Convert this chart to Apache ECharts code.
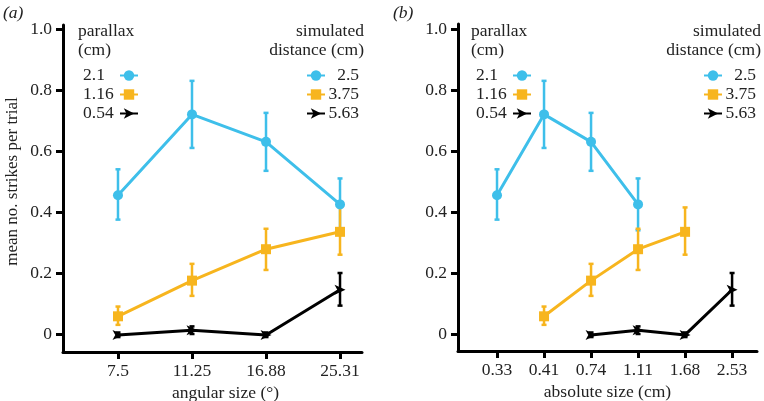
<!DOCTYPE html>
<html lang="en">
<head>
    <meta charset="UTF-8" />
    <title>mean strikes per trial</title>
    <script src="https://cdn.jsdelivr.net/npm/echarts@6.0.0/dist/echarts.min.js"></script>
    <style>
        html, body { margin: 0; padding: 0; background: #fff; }
        #chart { width: 764px; height: 401px; }
    </style>
</head>
<body>
<div id="chart"></div>
<script>
    // tick labels
    const angularTicks = ['7.5', '11.25', '16.88', '25.31'];
    const absoluteTicks = ['0.33', '0.41', '0.74', '1.11', '1.68', '2.53'];

    // simulated distance (cm) and matching parallax (cm)
    const distances = ['2.5', '3.75', '5.63'];
    const parallax = ['2.1', '1.16', '0.54'];

    // means and error bar ends, one value per angular size
    const blueMean = [0.455, 0.72, 0.63, 0.425];
    const blueLow = [0.375, 0.61, 0.535, 0.34];
    const blueHigh = [0.54, 0.83, 0.725, 0.51];

    const orangeMean = [0.058, 0.175, 0.278, 0.335];
    const orangeLow = [0.03, 0.125, 0.21, 0.26];
    const orangeHigh = [0.09, 0.23, 0.345, 0.415];

    const blackMean = [-0.003, 0.012, -0.003, 0.145];
    const blackLow = [-0.01, 0.0, -0.01, 0.093];
    const blackHigh = [0.005, 0.025, 0.005, 0.2];

    // first absolute size index of each distance in panel (b)
    const absOffset = [0, 1, 2];

    const colors = ['#3ebfea', '#f7b51e', '#000000'];
    const symbols = ['circle', 'rect', 'path://M0,0L10,5L0,10L2.5,5Z'];
    const FONT = 'Liberation Serif';
    const FS = 17.5;

    const groups = [
        { mean: blueMean, low: blueLow, high: blueHigh },
        { mean: orangeMean, low: orangeLow, high: orangeHigh },
        { mean: blackMean, low: blackLow, high: blackHigh }
    ];

    const chart = echarts.init(document.getElementById('chart'));

    function errorBars(axis, offset, g, color) {
        return {
            type: 'custom',
            name: 'err',
            xAxisIndex: axis,
            yAxisIndex: axis,
            z: 3,
            clip: false,
            data: g.mean.map((m, i) => [i + offset, g.low[i], g.high[i]]),
            renderItem: (params, api) => {
                const lo = api.coord([api.value(0), api.value(1)]);
                const hi = api.coord([api.value(0), api.value(2)]);
                const cap = 2.5;
                const style = { stroke: color, lineWidth: 2.5 };
                return {
                    type: 'group',
                    children: [
                        { type: 'line', shape: { x1: lo[0], y1: lo[1], x2: hi[0], y2: hi[1] }, style },
                        { type: 'line', shape: { x1: lo[0] - cap, y1: lo[1], x2: lo[0] + cap, y2: lo[1] }, style },
                        { type: 'line', shape: { x1: hi[0] - cap, y1: hi[1], x2: hi[0] + cap, y2: hi[1] }, style }
                    ]
                };
            }
        };
    }

    const series = [];
    groups.forEach((g, k) => {
        [2, 3].forEach(axis => {
            const offset = axis === 2 ? 0 : absOffset[k];
            series.push(errorBars(axis, offset, g, colors[k]));
            series.push({
                type: 'line',
                name: distances[k],
                xAxisIndex: axis,
                yAxisIndex: axis,
                z: 4,
                clip: false,
                data: g.mean.map((m, i) => [i + offset, m]),
                symbol: symbols[k],
                symbolSize: k === 2 ? [11, 10] : 10,
                showSymbol: true,
                color: colors[k],
                lineStyle: { color: colors[k], width: 3 },
                itemStyle: { color: colors[k] },
                animation: false
            });
        });
    });

    // frame axes: only the long axis lines
    function frameAxis(grid) {
        return {
            type: 'value', gridIndex: grid, min: 0, max: 1,
            z: 1,
            axisLine: { show: true, onZero: false, lineStyle: { color: '#000', width: 3 } },
            axisTick: { show: false }, axisLabel: { show: false }, splitLine: { show: false }
        };
    }

    function hiddenAxis(grid, min, max) {
        return { type: 'value', gridIndex: grid, min, max, show: false };
    }

    const tick = { show: true, inside: false, length: 7, lineStyle: { width: 3, color: '#000' } };

    // tick-only x axis, moved down onto the frame line
    function tickXAxis(grid, ticks, name, offset, shift) {
        return {
            type: 'value', gridIndex: grid,
            min: 0, max: ticks.length - 1, interval: 1,
            offset, z: 5,
            name, nameLocation: 'middle', nameGap: 27,
            nameTextStyle: { fontFamily: FONT, fontSize: FS, color: '#222', padding: [0, shift, 0, 0] },
            axisLine: { show: true, onZero: false, lineStyle: { color: 'rgba(0,0,0,0)', width: 0 } },
            axisTick: tick,
            axisLabel: { formatter: v => ticks[Math.round(v)], fontFamily: FONT, fontSize: FS, color: '#222', margin: 10 },
            splitLine: { show: false }
        };
    }

    function dataYAxis(grid, name) {
        return {
            type: 'value', gridIndex: grid,
            min: 0, max: 1, interval: 0.2,
            z: 5,
            name, nameLocation: 'middle', nameGap: 42,
            nameTextStyle: { fontFamily: FONT, fontSize: 17, color: '#222' },
            axisLine: { show: false, onZero: false },
            axisTick: tick,
            axisLabel: {
                formatter: v => v === 0 ? '0' : v.toFixed(1),
                fontFamily: FONT, fontSize: FS, color: '#222', margin: 11
            },
            splitLine: { show: false }
        };
    }

    const legendText = { fontFamily: FONT, fontSize: FS, color: '#222', lineHeight: 19 };

    function parallaxLegend(left) {
        return {
            orient: 'vertical', left, top: 61,
            data: distances, align: 'right',
            itemWidth: 18, itemHeight: 13, itemGap: 0,
            selectedMode: false,
            formatter: n => '{a|' + parallax[distances.indexOf(n)] + '}',
            textStyle: Object.assign({ rich: { a: Object.assign({ width: 32, align: 'left' }, legendText) } }, legendText)
        };
    }

    function distanceLegend(right) {
        return {
            orient: 'vertical', right, top: 61,
            data: distances, align: 'left',
            itemWidth: 18, itemHeight: 13, itemGap: 0,
            selectedMode: false,
            formatter: n => '{a|' + n + '}',
            textStyle: Object.assign({ rich: { a: Object.assign({ width: 29, align: 'right' }, legendText) } }, legendText)
        };
    }

    function label(x, y, text, align, style) {
        return {
            type: 'text', x, y,
            style: Object.assign({ text, textAlign: align, fontFamily: FONT, fontSize: FS, fill: '#222', lineHeight: 19 }, style || {})
        };
    }

    chart.setOption({
        animation: false,
        grid: [
            { left: 63, top: 25, width: 299, height: 327, outerBoundsMode: 'none' },
            { left: 458, top: 24, width: 299, height: 327, outerBoundsMode: 'none' },
            { left: 63, top: 29, width: 299, height: 305, outerBoundsMode: 'none' },
            { left: 458, top: 29, width: 299, height: 305, outerBoundsMode: 'none' },
            { left: 118, top: 29, width: 222, height: 305, outerBoundsMode: 'none' },
            { left: 497, top: 29, width: 235, height: 305, outerBoundsMode: 'none' }
        ],
        xAxis: [
            frameAxis(0),
            frameAxis(1),
            hiddenAxis(2, -0.743, 3.297),
            hiddenAxis(3, -0.83, 5.53),
            tickXAxis(4, angularTicks, 'angular size (°)', 18, 7),
            tickXAxis(5, absoluteTicks, 'absolute size (cm)', 17, 14)
        ],
        yAxis: [
            frameAxis(0),
            frameAxis(1),
            dataYAxis(2, 'mean no. strikes per trial'),
            dataYAxis(3, ''),
            hiddenAxis(4, 0, 1),
            hiddenAxis(5, 0, 1)
        ],
        legend: [
            parallaxLegend(78),
            distanceLegend(764 - 364),
            parallaxLegend(471),
            distanceLegend(3)
        ],
        graphic: [
            label(3, 4, '(a)', 'left', { fontStyle: 'italic' }),
            label(393, 4, '(b)', 'left', { fontStyle: 'italic' }),
            label(78, 22, 'parallax\n(cm)', 'left'),
            label(364, 22, 'simulated\ndistance (cm)', 'right'),
            label(471, 22, 'parallax\n(cm)', 'left'),
            label(761, 22, 'simulated\ndistance (cm)', 'right')
        ],
        series
    });
</script>
</body>
</html>
